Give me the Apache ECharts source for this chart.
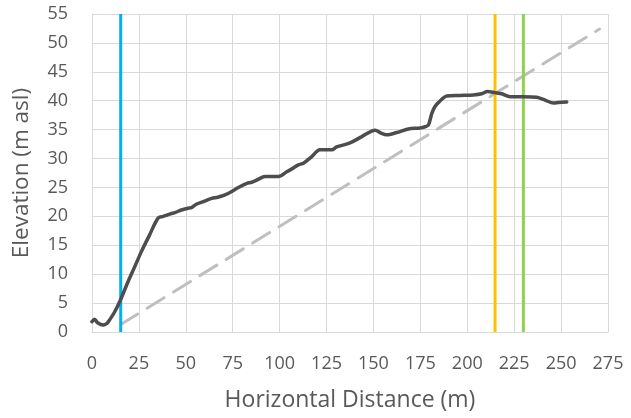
<!DOCTYPE html>
<html><head><meta charset="utf-8">
<script src="https://cdn.jsdelivr.net/npm/echarts@6/dist/echarts.min.js"></script>
<style>html,body{margin:0;padding:0;background:#fff}#c{width:631px;height:418px}</style>
</head><body><div id="c"></div>
<script>
const xTicks = [0,25,50,75,100,125,150,175,200,225,250,275];
const yTicks = [0,5,10,15,20,25,30,35,40,45,50,55];
const profileDist = [0,1.4,3,5.9,8,9.4,12.1,15.1,19.2,22.8,26.3,30.7,35.2,38,41.4,44.5,47.6,51.2,53,55.6,59,63.8,67,70.9,74.5,78,82.5,85.1,88,92.2,99.3,103.8,107,110,112.7,117,121.5,127.8,130.4,137.5,143.8,150.9,154,157.1,162.4,168.6,174.8,177.5,179.3,181.1,182.8,185,189.1,196.2,203.3,207.7,210.7,214.8,218.4,222.8,229.9,237,241.5,245.9,248.6,253];
const profileElev = [1.8,2.2,1.6,1.2,1.5,2.1,3.5,5.5,8.7,11.3,13.9,16.8,19.7,20.0,20.4,20.7,21.1,21.4,21.5,22.1,22.5,23.1,23.3,23.7,24.3,25.0,25.7,25.9,26.3,26.9,26.9,27.7,28.3,28.9,29.2,30.3,31.5,31.5,32.0,32.7,33.8,34.9,34.4,34.1,34.5,35.1,35.3,35.5,35.8,37.8,39.0,39.8,40.8,40.9,41.0,41.2,41.6,41.4,41.2,40.7,40.7,40.6,40.1,39.6,39.7,39.8];
const slopeDist = [15.3, 270.5];
const slopeElev = [1.3, 52.4];
const blueX = 15.3, orangeX = 214.8, greenX = 229.9;
const vRange = [0, 55];

const FONT = '"Open Sans", sans-serif';
const TXT = '#595959';
function pairs(xs, ys){ return xs.map((x,i)=>[x, ys[i]]); }
function vline(x){ return vRange.map(y=>[x,y]); }

const chart = echarts.init(document.getElementById('c'), null, {renderer:'canvas'});
chart.setOption({
  animation:false,
  backgroundColor:'#fff',
  grid:{left:92, right:23, top:14, bottom:86, containLabel:false},
  xAxis:{
    type:'value', min:xTicks[0], max:xTicks[xTicks.length-1], interval:25,
    name:'Horizontal Distance (m)', nameLocation:'middle', nameGap:57,
    nameTextStyle:{color:TXT, fontSize:23, fontFamily:FONT},
    axisLine:{show:true, lineStyle:{color:'#d9d9d9', width:1}},
    axisTick:{show:false},
    axisLabel:{color:TXT, fontSize:18, fontFamily:FONT, margin:23},
    splitLine:{show:true, lineStyle:{color:'#d9d9d9', width:1}}
  },
  yAxis:{
    type:'value', min:yTicks[0], max:yTicks[yTicks.length-1], interval:5,
    name:'Elevation (m asl)', nameLocation:'middle', nameGap:59, nameRotate:90,
    nameTextStyle:{color:TXT, fontSize:22.5, fontFamily:FONT},
    axisLine:{show:false},
    axisTick:{show:false},
    axisLabel:{color:TXT, fontSize:18, fontFamily:FONT, margin:24},
    splitLine:{show:true, lineStyle:{color:'#d9d9d9', width:1}}
  },
  series:[
    {type:'line', data:pairs(slopeDist, slopeElev), showSymbol:false, symbol:'none',
     lineStyle:{color:'#bfbfbf', width:3, type:[20,11], cap:'round'}, z:2},
    {type:'line', data:vline(blueX), showSymbol:false, symbol:'none', lineStyle:{color:'#00b0f0', width:3}, z:3},
    {type:'line', data:vline(orangeX), showSymbol:false, symbol:'none', lineStyle:{color:'#ffc000', width:3}, z:3},
    {type:'line', data:vline(greenX), showSymbol:false, symbol:'none', lineStyle:{color:'#92d050', width:3}, z:3},
    {type:'line', data:pairs(profileDist, profileElev), showSymbol:false, symbol:'none', smooth:0.3,
     lineStyle:{color:'#4d4d4d', width:3.5, join:'round', cap:'round'}, z:4}
  ]
});
</script></body></html>
